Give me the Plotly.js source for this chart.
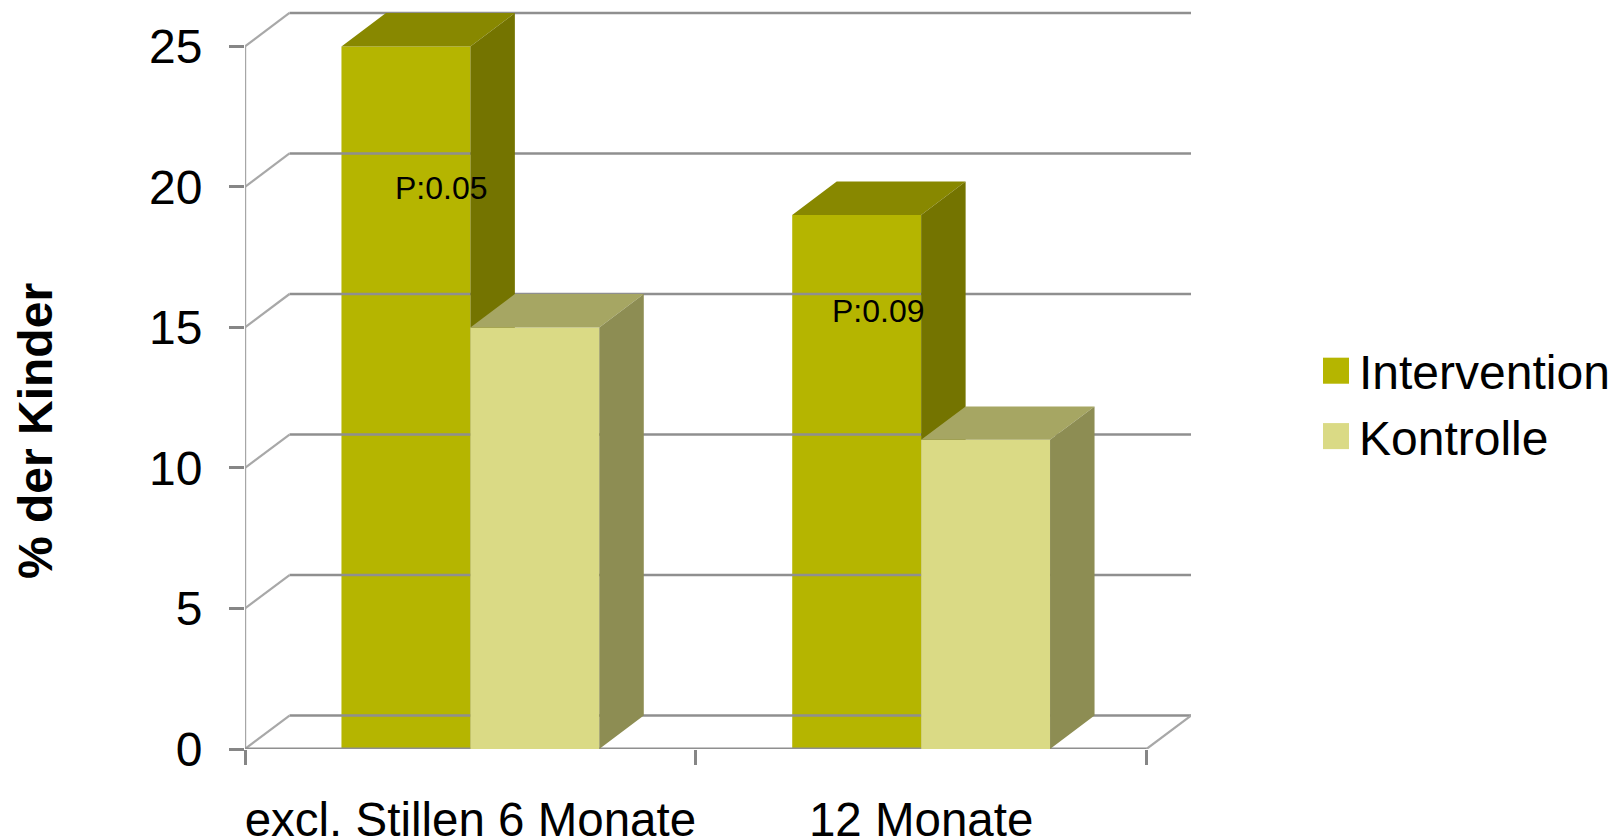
<!DOCTYPE html>
<html>
<head>
<meta charset="utf-8">
<script src="https://cdn.plot.ly/plotly-3.0.1.min.js"></script>
<style>html,body{margin:0;padding:0;background:#fff}#chart{width:1621px;height:839px}</style>
</head>
<body>
<div id="chart"></div>
<script>
const categories = ["excl. Stillen 6 Monate", "12 Monate"];
const intervention = [25, 19];
const kontrolle = [15, 11];
const yTicks = [0, 5, 10, 15, 20, 25];
const pLabels = ["P:0.05", "P:0.09"];

const FONT = '"Liberation Sans", Arial, sans-serif';
const depthX = 0.0987, depthY = 1.19, barW = 0.286;
const catPos = categories.map((_, i) => i);
const xMin = -0.5, xEnd = categories.length - 0.5;
const GRID = '#8f8f8f', TICK = '#868686', AXIS = '#a6a6a6';

function box(values, off, topColor, sideColor, xa, ya) {
  const top = {x: [], y: []}, side = {x: [], y: []};
  values.forEach((v, i) => {
    const l = catPos[i] + off, r = l + barW;
    top.x.push(l, r, r + depthX, l + depthX, l, null);
    top.y.push(v, v, v + depthY, v + depthY, v, null);
    side.x.push(r, r + depthX, r + depthX, r, r, null);
    side.y.push(0, depthY, v + depthY, v, 0, null);
  });
  const base = {type: 'scatter', mode: 'none', fill: 'toself', showlegend: false, hoverinfo: 'skip', xaxis: xa, yaxis: ya, cliponaxis: false};
  return [
    Object.assign({}, base, top, {fillcolor: topColor}),
    Object.assign({}, base, side, {fillcolor: sideColor})
  ];
}

const wall = {x: [], y: []}, diag = {x: [], y: []};
yTicks.forEach(t => {
  wall.x.push(xMin + depthX, xEnd + depthX, null);
  wall.y.push(t + depthY, t + depthY, null);
  diag.x.push(xMin, xMin + depthX, null);
  diag.y.push(t, t + depthY, null);
});
const lineBase = {type: 'scatter', mode: 'lines', showlegend: false, hoverinfo: 'skip', cliponaxis: false};
const traces = [
  Object.assign({}, lineBase, {x: wall.x, y: wall.y, line: {color: GRID, width: 2.6}}),
  Object.assign({}, lineBase, {x: diag.x.concat([xEnd, xEnd + depthX]), y: diag.y.concat([0, depthY]), line: {color: '#a8a8a8', width: 2.2}}),
  Object.assign({}, lineBase, {x: [xMin, xMin], y: [0, yTicks[yTicks.length - 1]], line: {color: AXIS, width: 2.4}}),
  Object.assign({}, lineBase, {x: [xMin, xEnd], y: [0, 0], line: {color: GRID, width: 3}}),
  {type: 'bar', name: 'Intervention', x: catPos, y: intervention, width: barW, offset: -barW, marker: {color: '#B5B500', line: {width: 0}}, hoverinfo: 'y'},
  ...box(intervention, -barW, '#888800', '#747400', 'x', 'y'),
  {type: 'bar', name: 'Kontrolle', x: catPos, y: kontrolle, width: barW, offset: 0, marker: {color: '#DADA85', line: {width: 0}}, xaxis: 'x2', yaxis: 'y2', hoverinfo: 'y'},
  ...box(kontrolle, 0, '#A6A663', '#8D8D53', 'x2', 'y2')
];

const yMax = 26.26, xMax = xEnd + depthX;
const layout = {
  width: 1621, height: 839,
  margin: {l: 245, r: 430, t: 11, b: 90, pad: 0, autoexpand: false},
  paper_bgcolor: '#fff', plot_bgcolor: '#fff',
  font: {family: FONT, color: '#000'},
  barmode: 'overlay',
  xaxis: {
    range: [xMin, xMax], showgrid: false, zeroline: false, showline: false,
    tickmode: 'array', tickvals: catPos, ticktext: categories, ticks: '',
    tickfont: {size: 47.5, family: FONT}, ticklabelstandoff: 38,
    minor: {tickmode: 'array', tickvals: [-0.5, 0.5, 1.5], ticks: 'outside', ticklen: 15, tickwidth: 3, tickcolor: TICK, showgrid: false}
  },
  yaxis: {
    range: [0, yMax], showgrid: false, zeroline: false, showline: false,
    tickmode: 'array', tickvals: yTicks, ticks: 'outside', ticklen: 15, tickwidth: 3, tickcolor: TICK,
    tickfont: {size: 48, family: FONT}, ticklabelstandoff: 17
  },
  xaxis2: {range: [xMin, xMax], overlaying: 'x', visible: false, anchor: 'y2'},
  yaxis2: {range: [0, yMax], overlaying: 'y', visible: false, anchor: 'x2'},
  legend: {
    xref: 'container', yref: 'container', x: 1313 / 1621, y: 1 - 333 / 839, xanchor: 'left', yanchor: 'top',
    font: {size: 48, family: FONT, color: '#000'}, itemwidth: 36, bgcolor: 'rgba(0,0,0,0)', traceorder: 'normal', borderwidth: 0,
    itemclick: false, itemdoubleclick: false
  },
  annotations: [
    {xref: 'x', yref: 'y', x: -0.065, y: 19.96, text: pLabels[0], showarrow: false, font: {size: 32, family: FONT, color: '#000'}},
    {xref: 'x', yref: 'y', x: 0.906, y: 15.6, text: pLabels[1], showarrow: false, font: {size: 32, family: FONT, color: '#000'}},
    {xref: 'paper', yref: 'paper', x: (35 - 245) / 946, y: (749 - 431) / 738, xanchor: 'center', yanchor: 'middle', text: '<b>% der Kinder</b>', textangle: -90, showarrow: false, font: {size: 48, family: FONT, color: '#000'}}
  ],
  showlegend: true
};
Plotly.newPlot('chart', traces, layout, {staticPlot: true, displayModeBar: false}).then(gd => {
  gd.querySelectorAll('.legend .legendpoints path').forEach(p => {
    const old = p.getAttribute('transform') || '';
    p.setAttribute('transform', old + ' scale(2.17)');
  });
});
</script>
</body>
</html>
